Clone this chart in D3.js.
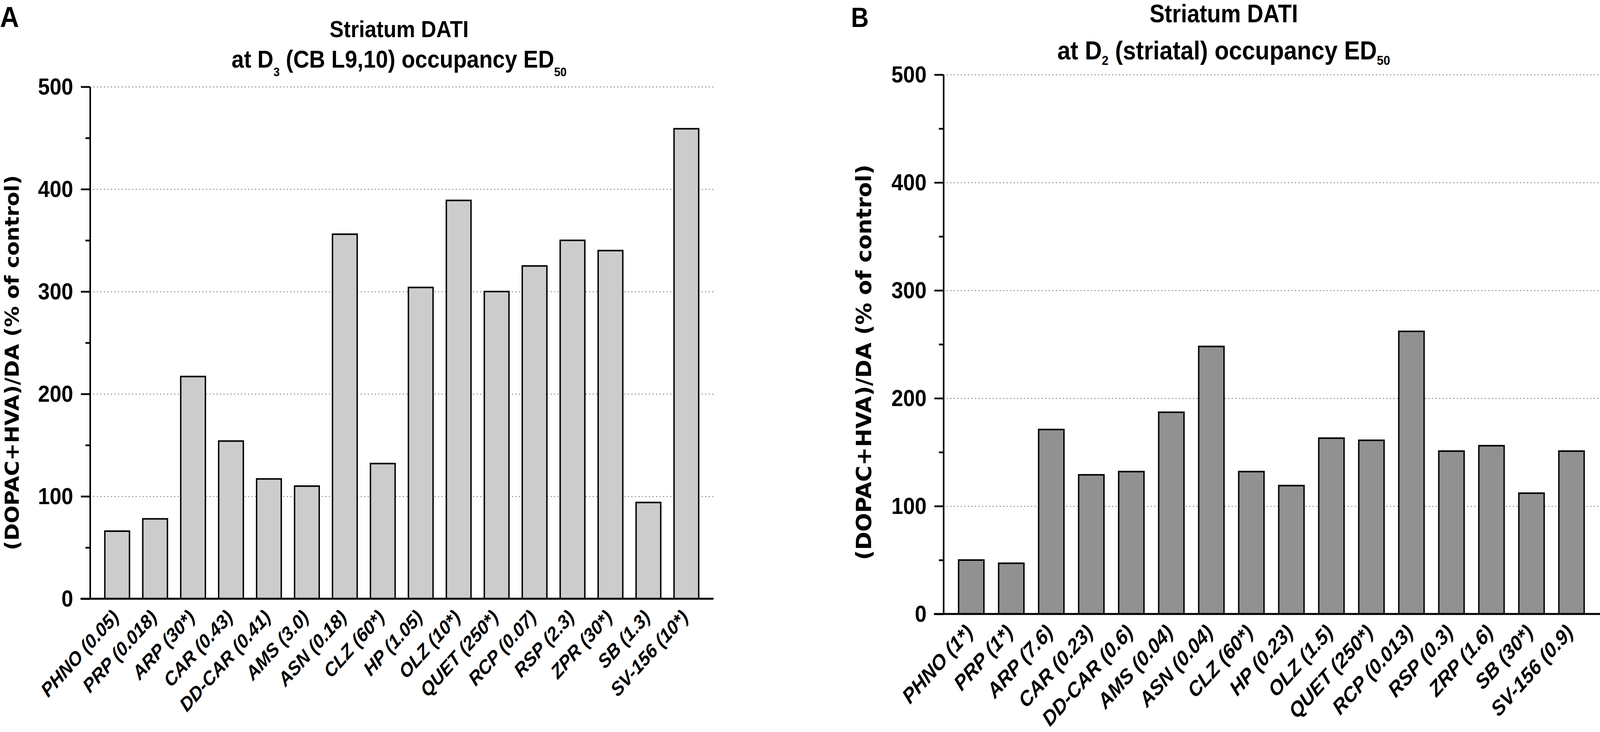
<!DOCTYPE html>
<html>
<head>
<meta charset="utf-8">
<script src="https://cdn.jsdelivr.net/npm/d3@7"></script>
<style>
    html, body { margin: 0; padding: 0; overflow: hidden; background: #ffffff; }
    svg { display: block; background: #ffffff; width: 100vw; height: 100vh; }
</style>
</head>
<body>
<div id="chart"></div>
<script>
const width = 4550;
const height = 1873;

////////////////////////////////////////////////////////
// DATA
////////////////////////////////////////////////////////

const drugsA = [
    "PHNO (0.05)", "PRP (0.018)", "ARP (30*)", "CAR (0.43)", "DD-CAR (0.41)",
    "AMS (3.0)", "ASN (0.18)", "CLZ (60*)", "HP (1.05)", "OLZ (10*)",
    "QUET (250*)", "RCP (0.07)", "RSP (2.3)", "ZPR (30*)", "SB (1.3)", "SV-156 (10*)"
];
const valuesA = [66, 78, 217, 154, 117, 110, 356, 132, 304, 389, 300, 325, 350, 340, 94, 459];

const drugsB = [
    "PHNO (1*)", "PRP (1*)", "ARP (7.6)", "CAR (0.23)", "DD-CAR (0.6)",
    "AMS (0.04)", "ASN (0.04)", "CLZ (60*)", "HP (0.23)", "OLZ (1.5)",
    "QUET (250*)", "RCP (0.013)", "RSP (0.3)", "ZRP (1.6)", "SB (30*)", "SV-156 (0.9)"
];
const valuesB = [50, 47, 171, 129, 132, 187, 248, 132, 119, 163, 161, 262, 151, 156, 112, 151];

const yMajor = [0, 100, 200, 300, 400, 500];
const yMinor = [50, 150, 250, 350, 450];
const yGrid = [100, 200, 300, 400, 500];

const yLabel = "(DOPAC+HVA)/DA (% of control)";
const titleTop = "Striatum DATI";
const titleA = [["at D", false], ["3", true], [" (CB L9,10) occupancy ED", false], ["50", true]];
const titleB = [["at D", false], ["2", true], [" (striatal) occupancy ED", false], ["50", true]];

////////////////////////////////////////////////////////
// SVG
////////////////////////////////////////////////////////

// the window is narrower than 4550 css px, so draw in 4550x1873 units
// and stretch the drawing over the whole window
const svg = d3.select("#chart")
    .append("svg")
    .attr("viewBox", `0 0 ${width} ${height}`)
    .attr("preserveAspectRatio", "none");

const sans = "'Liberation Sans', Arial, Helvetica, sans-serif";
const wide = "'DejaVu Sans', Verdana, sans-serif";

function drawPanel(p) {

    const g = svg.append("g");

    const x = d3.scaleBand()
        .domain(p.drugs)
        .range([p.left, p.right])
        .paddingInner(p.padIn)
        .paddingOuter(p.padOut);

    const y = d3.scaleLinear()
        .domain([0, 500])
        .range([p.bottom, p.top]);

    // GRID
    g.append("g")
        .attr("transform", `translate(${p.left},0)`)
        .call(
            d3.axisLeft(y)
                .tickValues(yGrid)
                .tickSize(-(p.gridEnd - p.left))
                .tickFormat("")
        )
        .call(a => a.select(".domain").remove())
        .selectAll("line")
        .attr("stroke", "#333")
        .attr("stroke-width", 2.2)
        .attr("stroke-dasharray", "2.2,7.8");

    // BARS
    g.selectAll(".bar")
        .data(p.values)
        .enter()
        .append("rect")
        .attr("class", "bar")
        .attr("x", (d, i) => x(p.drugs[i]))
        .attr("y", d => y(d))
        .attr("width", x.bandwidth())
        .attr("height", d => y(0) - y(d))
        .attr("fill", p.fill)
        .attr("stroke", "#000")
        .attr("stroke-width", 4);

    // X AXIS
    const xAxis = g.append("g")
        .attr("transform", `translate(0,${p.bottom})`)
        .call(d3.axisBottom(x).tickSize(0))
        .call(a => a.select(".domain").remove());

    xAxis.selectAll("text")
        .attr("x", 0)
        .attr("y", 0)
        .attr("dy", null)
        .attr("transform", `translate(${p.labelDx},${p.labelDy}) rotate(-45)`)
        .style("text-anchor", "end")
        .attr("font-family", sans)
        .attr("font-weight", "bold")
        .attr("font-style", "italic")
        .attr("font-size", p.xFont)
        .attr("fill", "#000");

    g.append("line")
        .attr("x1", p.left - 27)
        .attr("x2", p.gridEnd)
        .attr("y1", y(0))
        .attr("y2", y(0))
        .attr("stroke", "#000")
        .attr("stroke-width", 5);

    // Y AXIS
    const yAxis = g.append("g")
        .attr("transform", `translate(${p.left},0)`)
        .call(
            d3.axisLeft(y)
                .tickValues(yMajor)
                .tickSize(26)
                .tickSizeOuter(0)
                .tickPadding(22)
        );

    yAxis.select(".domain").attr("stroke-width", 4.5);
    yAxis.selectAll("line").attr("stroke-width", 4.5);
    yAxis.selectAll("text")
        .attr("font-family", sans)
        .attr("font-weight", "bold")
        .attr("font-size", p.tickFont)
        .attr("fill", "#000");

    g.append("g")
        .attr("transform", `translate(${p.left},0)`)
        .call(
            d3.axisLeft(y)
                .tickValues(yMinor)
                .tickSize(13)
                .tickFormat("")
        )
        .call(a => a.select(".domain").remove())
        .selectAll("line")
        .attr("stroke-width", 4.5);

    // Y LABEL
    g.append("text")
        .attr("transform", `translate(${p.yLabelX},${p.yLabelY}) rotate(-90)`)
        .attr("text-anchor", "middle")
        .attr("font-family", wide)
        .attr("font-weight", "bold")
        .attr("font-size", p.yFont)
        .attr("textLength", p.yLabelLen)
        .attr("lengthAdjust", "spacingAndGlyphs")
        .text(yLabel);

    // TITLE
    g.append("text")
        .attr("x", p.titleX)
        .attr("y", p.title1Y)
        .attr("text-anchor", "middle")
        .attr("font-family", sans)
        .attr("font-weight", "bold")
        .attr("font-size", p.title1Font)
        .text(titleTop);

    const t2 = g.append("text")
        .attr("x", p.titleX)
        .attr("y", p.title2Y)
        .attr("text-anchor", "middle")
        .attr("font-family", sans)
        .attr("font-weight", "bold")
        .attr("font-size", p.title2Font);

    p.title.forEach(([txt, sub], i) => {
        const prevSub = i > 0 && p.title[i - 1][1];
        t2.append("tspan")
            .attr("dy", sub ? p.subShift : (prevSub ? -p.subShift : null))
            .attr("font-size", sub ? p.subFont : null)
            .text(txt);
    });

    // PANEL LETTER
    g.append("text")
        .attr("x", p.letterX)
        .attr("y", p.letterY)
        .attr("font-family", sans)
        .attr("font-weight", "bold")
        .attr("font-size", p.letterFont)
        .text(p.letter);
}

////////////////////////////////////////////////////////
// PANEL A
////////////////////////////////////////////////////////

drawPanel({
    drugs: drugsA,
    values: valuesA,
    fill: "#cccccc",
    left: 256,
    right: 2029,
    gridEnd: 2029,
    top: 222,
    bottom: 1532,
    padIn: 0.35,
    padOut: 0.39,
    labelDx: 8,
    labelDy: 50,
    xFont: 50,
    tickFont: 60,
    yFont: 56,
    yLabelLen: 960,
    yLabelX: 53,
    yLabelY: 928,
    titleX: 1135,
    title1Y: 95,
    title2Y: 173,
    title1Font: 60,
    title2Font: 63,
    subFont: 32,
    subShift: 22,
    title: titleA,
    letter: "A",
    letterX: 0,
    letterY: 69,
    letterFont: 75
});

////////////////////////////////////////////////////////
// PANEL B
////////////////////////////////////////////////////////

drawPanel({
    drugs: drugsB,
    values: valuesB,
    fill: "#919191",
    left: 2683,
    right: 4548,
    gridEnd: 4550,
    top: 191,
    bottom: 1571,
    padIn: 0.367,
    padOut: 0.378,
    labelDx: 8,
    labelDy: 50,
    xFont: 54,
    tickFont: 60,
    yFont: 59,
    yLabelLen: 1012,
    yLabelX: 2477,
    yLabelY: 927,
    titleX: 3480,
    title1Y: 57,
    title2Y: 152,
    title1Font: 64,
    title2Font: 67,
    subFont: 34,
    subShift: 14,
    title: titleB,
    letter: "B",
    letterX: 2420,
    letterY: 69,
    letterFont: 70
});
</script>
</body>
</html>
